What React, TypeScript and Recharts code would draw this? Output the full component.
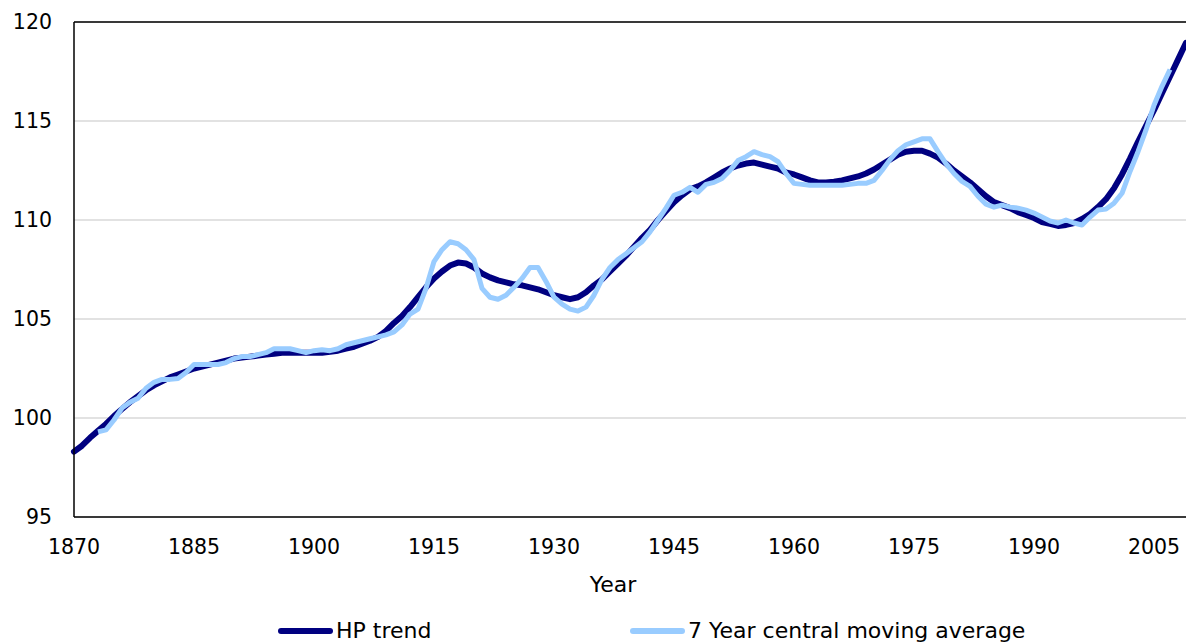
import { LineChart, Line, XAxis, YAxis, CartesianGrid, Legend, ReferenceLine } from 'recharts';

const startYear = 1870;

// HP filtered trend, 1870-2009
const hpTrend = [
  98.3, 98.6, 99.0, 99.35, 99.7, 100.1, 100.45, 100.8, 101.1, 101.4,
  101.65, 101.85, 102.05, 102.2, 102.35, 102.5, 102.6, 102.7, 102.8, 102.9,
  103.0, 103.05, 103.1, 103.15, 103.2, 103.25, 103.3, 103.3, 103.3, 103.3,
  103.3, 103.3, 103.35, 103.4, 103.5, 103.6, 103.75, 103.9, 104.1, 104.4,
  104.8, 105.15, 105.6, 106.1, 106.6, 107.05, 107.4, 107.7, 107.85, 107.8,
  107.6, 107.3, 107.1, 106.95, 106.85, 106.75, 106.7, 106.6, 106.5, 106.35,
  106.2, 106.1, 106.0, 106.1, 106.35, 106.7, 107.0, 107.4, 107.8, 108.2,
  108.65, 109.1, 109.5, 110.0, 110.45, 110.9, 111.25, 111.55, 111.7, 111.9,
  112.15, 112.4, 112.6, 112.75, 112.85, 112.9, 112.8, 112.7, 112.6, 112.4,
  112.3, 112.15, 112.0, 111.9, 111.9, 111.93, 112.0, 112.1, 112.2, 112.35,
  112.55, 112.8, 113.05, 113.3, 113.45, 113.5, 113.5, 113.35, 113.15, 112.85,
  112.5, 112.2, 111.9, 111.55, 111.2, 110.9, 110.75, 110.6, 110.4, 110.25,
  110.1, 109.9, 109.8, 109.7, 109.75, 109.85, 110.05, 110.3, 110.65, 111.05,
  111.6, 112.3, 113.1, 113.95, 114.75, 115.55, 116.4, 117.25, 118.1, 118.95,
];

// 7 year central moving average, 1873-2007 (null where not defined)
const movingAverage = [
  null, null, null, 99.3, 99.4, 99.9, 100.5, 100.8, 101.0, 101.5,
  101.8, 101.95, 101.95, 102.0, 102.3, 102.7, 102.7, 102.7, 102.7, 102.8,
  103.0, 103.1, 103.1, 103.2, 103.3, 103.5, 103.5, 103.5, 103.4, 103.3,
  103.4, 103.45, 103.4, 103.5, 103.7, 103.8, 103.9, 104.0, 104.1, 104.2,
  104.35, 104.7, 105.25, 105.5, 106.55, 107.9, 108.5, 108.9, 108.8, 108.5,
  108.0, 106.55, 106.1, 106.0, 106.2, 106.6, 107.05, 107.6, 107.6, 106.9,
  106.1, 105.75, 105.5, 105.4, 105.6, 106.2, 107.0, 107.6, 108.0, 108.3,
  108.6, 108.9, 109.4, 110.0, 110.6, 111.25, 111.4, 111.65, 111.4, 111.8,
  111.9, 112.1, 112.5, 113.0, 113.2, 113.45, 113.3, 113.2, 112.95, 112.35,
  111.85, 111.8, 111.75, 111.75, 111.75, 111.75, 111.75, 111.8, 111.85, 111.85,
  112.0, 112.5, 113.05, 113.5, 113.8, 113.95, 114.1, 114.1, 113.45, 112.85,
  112.35, 111.95, 111.7, 111.2, 110.8, 110.65, 110.75, 110.65, 110.6, 110.5,
  110.35, 110.15, 109.95, 109.85, 110.0, 109.85, 109.75, 110.15, 110.5, 110.55,
  110.85, 111.35, 112.45, 113.45, 114.55, 115.8, 116.75, 117.6, null, null,
];

const xTicks = [1870, 1885, 1900, 1915, 1930, 1945, 1960, 1975, 1990, 2005];
const yTicks = [95, 100, 105, 110, 115, 120];

const chartData = hpTrend.map((hp, i) => ({
  year: startYear + i,
  hp,
  ma: movingAverage[i],
}));

const FONT = '"DejaVu Sans", Verdana, sans-serif';

// where each legend entry starts, by dataKey
const legendLeft: Record<string, number> = { hp: 278, ma: 630 };

function LegendContent({ payload }: any) {
  return (
    <div style={{ position: 'relative', height: 24, fontFamily: FONT, fontSize: 22 }}>
      {(payload || []).map((item: any) => (
        <div
          key={item.dataKey}
          style={{
            position: 'absolute',
            left: legendLeft[item.dataKey],
            top: 0,
            height: 24,
            display: 'flex',
            alignItems: 'center',
          }}
        >
          <span
            style={{ display: 'inline-block', width: 55, height: 6, borderRadius: 3, background: item.color, marginRight: 3 }}
          />
          <span style={{ lineHeight: '24px', whiteSpace: 'nowrap', color: '#000' }}>{item.value}</span>
        </div>
      ))}
    </div>
  );
}

export default function App() {
  return (
    <div style={{ position: 'absolute', left: 0, top: 0, background: '#fff' }}>
      <LineChart width={1186} height={643} data={chartData} margin={{ top: 22, right: 0, left: 0, bottom: 0 }}>
        <CartesianGrid vertical={false} stroke="#d9d9d9" strokeWidth={1.5} />
        <XAxis
          dataKey="year"
          type="number"
          domain={[1870, 2009]}
          ticks={xTicks}
          interval={0}
          height={102}
          tickLine={false}
          tickSize={0}
          tickMargin={22}
          axisLine={{ stroke: '#000', strokeWidth: 1.5 }}
          tick={{ fill: '#000', fontSize: 20.5, fontFamily: FONT }}
          label={{ value: 'Year', position: 'insideTop', offset: 59, dx: -17, fill: '#000', fontSize: 22, fontFamily: FONT }}
        />
        <YAxis
          domain={[95, 120]}
          ticks={yTicks}
          width={74}
          tickLine={false}
          tickSize={0}
          tickMargin={22}
          axisLine={{ stroke: '#000', strokeWidth: 1.5 }}
          tick={{ fill: '#000', fontSize: 20.5, fontFamily: FONT }}
        />
        <ReferenceLine y={120} stroke="#000" strokeWidth={1.5} />
        <Legend verticalAlign="bottom" content={<LegendContent />} />
        <Line
          type="linear"
          dataKey="hp"
          name="HP trend"
          stroke="#000080"
          strokeWidth={6}
          strokeLinejoin="round"
          strokeLinecap="round"
          dot={false}
          activeDot={false}
          isAnimationActive={false}
        />
        <Line
          type="linear"
          dataKey="ma"
          name="7 Year central moving average"
          stroke="#99ccff"
          strokeWidth={5}
          strokeLinejoin="round"
          dot={false}
          activeDot={false}
          isAnimationActive={false}
        />
      </LineChart>
    </div>
  );
}
